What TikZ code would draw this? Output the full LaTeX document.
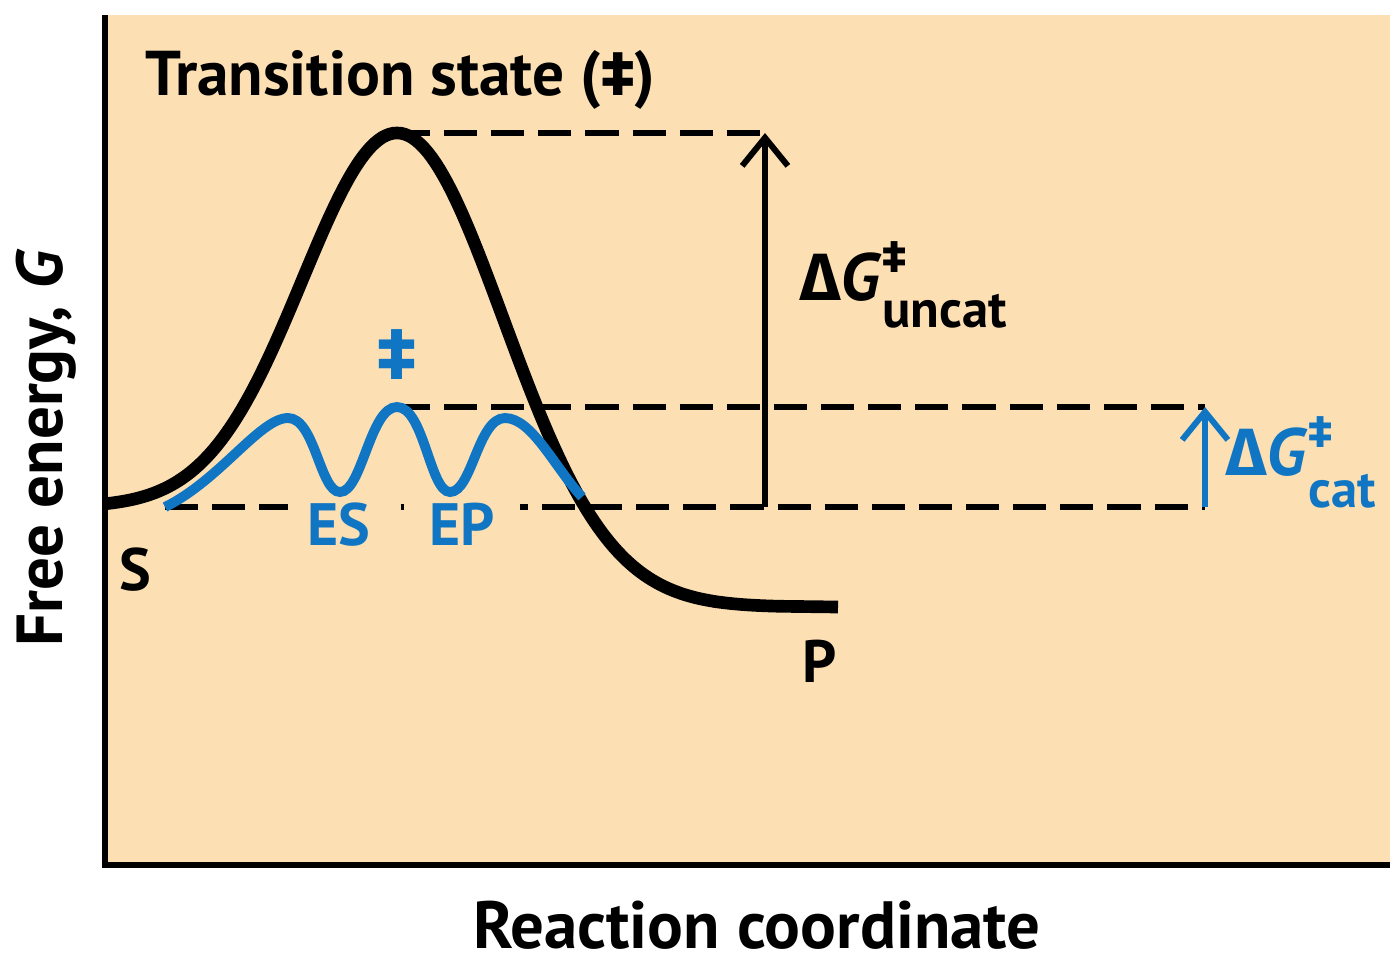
\documentclass[tikz,border=0pt]{standalone}
\usepackage{fontspec}
\setsansfont{PT Sans}
\newfontfamily\greekfont{Fira Sans}
\usetikzlibrary{arrows.meta, positioning, calc}
\definecolor{tanbg}{RGB}{252,224,180}
\definecolor{catblue}{RGB}{16,118,196}
\newcommand{\dg}{{\fontsize{19}{20}\selectfont{\greekfont\bfseries\char"0394}\textit{G}}}
\newcommand{\dbldag}{{\greekfont\bfseries\char"2021}}

\begin{document}
\begin{tikzpicture}[
        x=0.01cm, y=-0.01cm,
        axis/.style={line width=1.6pt, draw=black},
        uncat/.style={line width=3.6pt, draw=black},
        cat/.style={line width=2.8pt, draw=catblue},
        level/.style={line width=1.6pt, draw=black, dash pattern=on 9.4pt off 4pt},
        gap/.style={-{Straight Barb[length=8pt, width=13pt]}, line width=1.7pt},
        lbl/.style={font=\sffamily\bfseries\fontsize{17}{20}\selectfont, inner sep=0pt},
        big/.style={font=\sffamily\bfseries\fontsize{18.5}{22}\selectfont, inner sep=0pt}
    ]
        \useasboundingbox (0,0) rectangle (1400,963);
        \fill[tanbg] (105,15) rectangle (1390,865);
        \coordinate (top) at (105,15);
        \coordinate (origin) at (105,865);
        \coordinate (xend) at (1390,865);
        \coordinate (ts) at (397,133);
        \coordinate (tscat) at (397,407);
        \coordinate (sub) at (165,507);
        \coordinate (uncattop) at (765,133);
        \coordinate (uncatbot) at (765,507);
        \coordinate (cattop) at (1205,407);
        \coordinate (catbot) at (1205,507);
        \draw[axis] (top) -- (origin) -- (xend);
        \draw[level] (ts) -- (uncattop);
        \draw[level] (tscat) -- (cattop);
        \draw[level] (sub) -- (catbot);
        \draw[gap] (uncatbot) -- (uncattop);
        \draw[gap, draw=catblue] (catbot) -- (cattop);
        \node[lbl, text=catblue, fill=tanbg, inner xsep=0.2cm, inner ysep=0.08cm, anchor=base] (es) at (339,545) {ES};
        \node[lbl, text=catblue, fill=tanbg, inner xsep=0.25cm, inner ysep=0.08cm, anchor=base] (ep) at (462,545) {EP};
        \draw[uncat] plot[domain=105:397, samples=80] (\x, {507-374*exp(-((\x-397)/134)^2)})
            -- plot[domain=397:780, samples=100] (\x, {607-474*exp(-((\x-397)/150.7)^2)}) -- (838,607);
        \draw[cat] (sub) .. controls (220,480) and (260,418) .. (288,418)
            .. controls (315,418) and (320,492) .. (340,492)
            .. controls (362,492) and (370,407) .. (tscat)
            .. controls (424,407) and (430,492) .. (450,492)
            .. controls (472,492) and (478,418) .. (505,418)
            .. controls (532,418) and (555,468) .. (582,497);
        \node[big, font=\sffamily\bfseries\fontsize{18}{22}\selectfont, anchor=base west] (title) at (145,95) {Transition state (\dbldag)};
        \node[big, anchor=base, rotate=90] (ylab) at (62,448) {Free energy, \textit{G}};
        \node[big, font=\sffamily\bfseries\fontsize{19}{22}\selectfont, anchor=base] (xlab) at (757,948) {Reaction coordinate};
        \node[lbl, anchor=base] (s) at (135,590) {S};
        \node[lbl, anchor=base] (p) at (820,682) {P};
        \node[lbl, font=\sffamily\bfseries\fontsize{21}{22}\selectfont, text=catblue] (tsmark) at (397,355) {\dbldag};
        \node[lbl, anchor=base west] (dguncat) at (800,300) {\dg\rlap{\raisebox{0.27cm}{\fontsize{13}{13}\selectfont\dbldag}}\raisebox{-0.27cm}{\fontsize{15}{16}\selectfont uncat}};
        \node[lbl, anchor=base west, text=catblue] (dgcat) at (1226,475) {\dg\rlap{\raisebox{0.27cm}{\fontsize{13}{13}\selectfont\dbldag}}\raisebox{-0.32cm}{\fontsize{15}{16}\selectfont cat}};
    \end{tikzpicture}
\end{document}
